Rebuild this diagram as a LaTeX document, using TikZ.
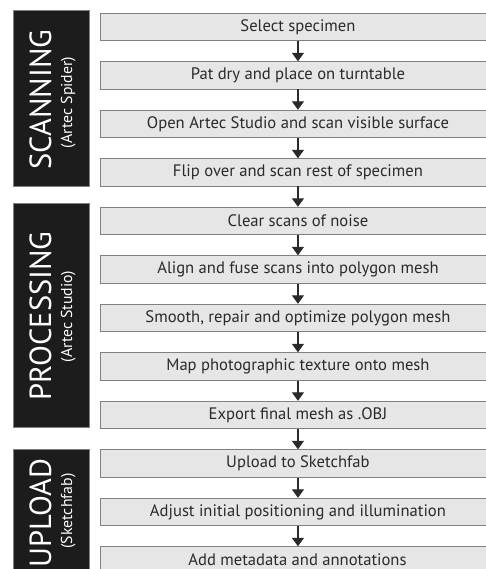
\documentclass[tikz,border=0pt]{standalone}
\usepackage{fontspec}
\setmainfont{PT Sans}
\usetikzlibrary{arrows.meta}
\definecolor{boxfill}{HTML}{E6E6E6}
\definecolor{boxline}{HTML}{808080}
\definecolor{barfill}{HTML}{1C1C1C}
\definecolor{txt}{HTML}{2A2A2A}
\begin{document}
\begin{tikzpicture}[x=1pt,y=-1pt,
  stepbox/.style={draw=boxline,fill=boxfill,line width=0.9pt,minimum width=396pt,minimum height=27.3pt,anchor=north west,inner sep=0pt,text=txt,font=\fontsize{16.6}{19}\selectfont},
  barbox/.style={draw=boxline,fill=barfill,line width=0.6pt,minimum width=76.3pt,anchor=north west,inner sep=0pt},
  bigtxt/.style={text=white,rotate=90,inner sep=0pt,font=\fontsize{30.5}{34}\selectfont},
  subtxt/.style={text=white,rotate=90,inner sep=0pt,font=\fontsize{15.8}{19}\selectfont},
  arr/.style={draw=txt,line width=1.3pt,-{Triangle[width=12pt,length=8.5pt]}}]
\useasboundingbox (0,0) rectangle (486,569);
\clip (0,0) rectangle (486,569);
\fill[white] (0,0) rectangle (486,569);
% bars
\node[barbox,minimum height=176pt] (scan) at (12.7,10) {};
\node[barbox,minimum height=223.4pt] (proc) at (12.7,203.3) {};
\node[barbox,minimum height=140pt] (upl) at (12.7,449.3) {};
\node[bigtxt] (scant) at (40.5,99.5) {SCANNING};
\node[subtxt] (scans) at (68.3,102.5) {(Artec Spider)};
\node[bigtxt] (proct) at (40.5,316) {PROCESSING};
\node[subtxt] (procs) at (68.3,316.5) {(Artec Studio)};
\node[bigtxt] (uplt) at (40.5,513) {UPLOAD};
\node[subtxt] (upls) at (68.3,511) {(Sketchfab)};
% steps
\node[stepbox] (b1) at (99.5,12.8) {Select specimen};
\node[stepbox] (b2) at (99.5,61.3) {Pat dry and place on turntable};
\node[stepbox] (b3) at (99.5,109.8) {Open Artec Studio and scan visible surface};
\node[stepbox] (b4) at (99.5,158.3) {Flip over and scan rest of specimen};
\node[stepbox] (b5) at (99.5,206.8) {Clear scans of noise};
\node[stepbox] (b6) at (99.5,255.3) {Align and fuse scans into polygon mesh};
\node[stepbox] (b7) at (99.5,303.8) {Smooth, repair and optimize polygon mesh};
\node[stepbox] (b8) at (99.5,352.3) {Map photographic texture onto mesh};
\node[stepbox] (b9) at (99.5,400.8) {Export final mesh as .OBJ};
\node[stepbox] (b10) at (99.5,449.3) {Upload to Sketchfab};
\node[stepbox] (b11) at (99.5,497.8) {Adjust initial positioning and illumination};
\node[stepbox] (b12) at (99.5,546.3) {};
\node[text=txt,font=\fontsize{16.6}{19}\selectfont,inner sep=0pt,text depth=0pt,anchor=base] (b12t) at (297.5,565.5) {Add metadata and annotations};
% arrows
\foreach \a/\b in {b1/b2,b2/b3,b3/b4,b4/b5,b5/b6,b6/b7,b7/b8,b8/b9,b9/b10,b10/b11,b11/b12}
  \draw[arr] (\a.south) -- (\b.north);
\end{tikzpicture}
\end{document}
